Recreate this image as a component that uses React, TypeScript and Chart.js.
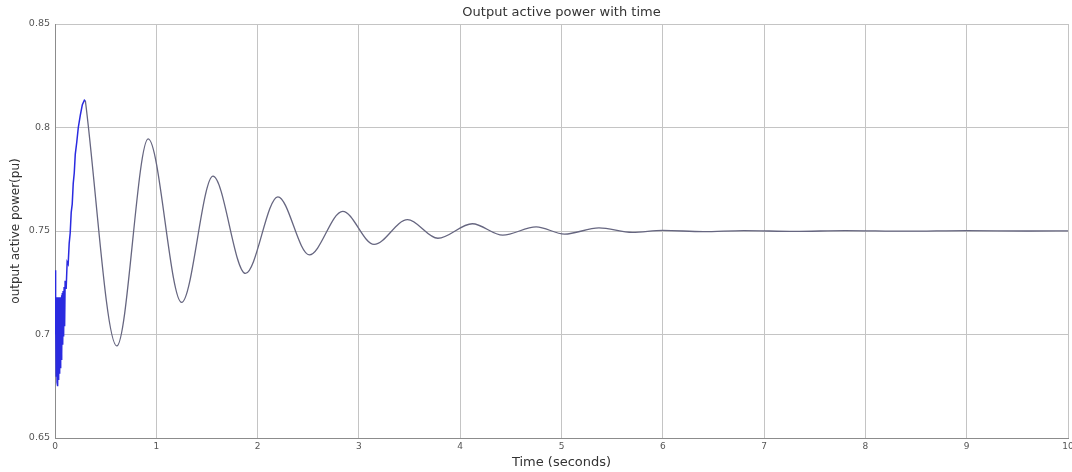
import React, { useEffect, useRef } from "react";
import { Chart, registerables } from "chart.js";

Chart.register(...registerables);

const titleText = "Output active power with time";
const xTitle = "Time (seconds)";
const yTitle = "output active power(pu)";

// Early transient (blue, dense oscillation)
const earlyTime = [
  0.0, 0.004, 0.008, 0.012, 0.016, 0.02, 0.024, 0.028, 0.032, 0.036, 0.04, 0.044, 0.048,
  0.052, 0.056, 0.06, 0.064, 0.068, 0.072, 0.076, 0.08, 0.085, 0.09, 0.095, 0.1, 0.11,
  0.12, 0.13, 0.14, 0.15, 0.16, 0.17, 0.18, 0.19, 0.2, 0.215, 0.23, 0.25, 0.27, 0.29, 0.3,
];
const earlyPower = [
  0.731, 0.7, 0.716, 0.68, 0.718, 0.677, 0.718, 0.675, 0.718, 0.678, 0.718, 0.681, 0.718,
  0.684, 0.718, 0.688, 0.719, 0.691, 0.72, 0.695, 0.721, 0.699, 0.723, 0.704, 0.726, 0.722,
  0.735, 0.734, 0.744, 0.749, 0.759, 0.763, 0.773, 0.778, 0.787, 0.793, 0.8, 0.806, 0.811,
  0.8132, 0.8128,
];

// Damped oscillation (peaks / troughs) after the first peak
const mainTime = [
  0.3, 0.61, 0.92, 1.25, 1.56, 1.88, 2.2, 2.51, 2.84, 3.15, 3.48, 3.78, 4.12, 4.42, 4.75,
  5.03, 5.37, 5.7, 6.0, 6.4, 6.8, 7.3, 7.8, 8.4, 9.0, 9.6, 10.0,
];
const mainPower = [
  0.8128, 0.6945, 0.7945, 0.7155, 0.7765, 0.7295, 0.7665, 0.7385, 0.7595, 0.7435, 0.7555,
  0.7465, 0.7535, 0.748, 0.752, 0.7485, 0.7515, 0.7493, 0.7503, 0.7497, 0.7502, 0.7498,
  0.7502, 0.7499, 0.7502, 0.75, 0.7501,
];

const xTicks = [0, 1, 2, 3, 4, 5, 6, 7, 8, 9, 10];
const yTicks = [0.65, 0.7, 0.75, 0.8, 0.85];

export default function App() {
  const ref = useRef<HTMLCanvasElement | null>(null);

  useEffect(() => {
    document.body.style.margin = "0";
    if (!ref.current) return;
    const font = "'DejaVu Sans', sans-serif";
    const chart = new Chart(ref.current, {
      type: "line",
      data: {
        datasets: [
          {
            data: earlyTime.map((t, i) => ({ x: t, y: earlyPower[i] })),
            borderColor: "#2a2ae0",
            borderWidth: 1.5,
            pointRadius: 0,
            tension: 0,
          },
          {
            data: mainTime.map((t, i) => ({ x: t, y: mainPower[i] })),
            borderColor: "#666680",
            borderWidth: 1.3,
            pointRadius: 0,
            cubicInterpolationMode: "monotone",
          },
        ],
      },
      options: {
        responsive: false,
        animation: false,
        layout: { padding: { top: 0, right: 4, bottom: 0, left: 0 } },
        plugins: {
          legend: { display: false },
          tooltip: { enabled: false },
          title: {
            display: true,
            fullSize: false,
            text: titleText,
            color: "#333",
            font: { family: font, size: 13, weight: "normal" },
            padding: { top: 5, bottom: 3.4 },
          },
        },
        scales: {
          x: {
            type: "linear",
            min: 0,
            max: 10,
            afterFit: (s: any) => {
              s.height = 34;
              s.paddingLeft = 0;
              s.paddingRight = 0;
            },
            afterBuildTicks: (s: any) => {
              s.ticks = xTicks.map((v) => ({ value: v }));
            },
            ticks: {
              color: "#555",
              font: { family: font, size: 9 },
              padding: 3,
              maxRotation: 0,
              callback: (v: any) => String(v),
            },
            grid: { color: "#c4c4c4", lineWidth: 1, drawTicks: false },
            border: { color: "#8c8c8c", width: 1 },
            title: {
              display: true,
              text: xTitle,
              color: "#333",
              font: { family: font, size: 13 },
              padding: { top: 0, bottom: 1.2 },
            },
          },
          y: {
            type: "linear",
            min: 0.65,
            max: 0.85,
            afterFit: (s: any) => {
              s.width = 55;
            },
            afterBuildTicks: (s: any) => {
              s.ticks = yTicks.map((v) => ({ value: v }));
            },
            ticks: {
              color: "#555",
              font: { family: font, size: 9.5 },
              padding: 5,
              callback: (v: any) => String(Number(Number(v).toFixed(2))),
            },
            grid: { color: "#c4c4c4", lineWidth: 1, drawTicks: false },
            border: { color: "#8c8c8c", width: 1 },
            title: {
              display: true,
              text: yTitle,
              color: "#333",
              font: { family: font, size: 12 },
              padding: { top: 8.8, bottom: 0 },
            },
          },
        },
      },
    });
    return () => chart.destroy();
  }, []);

  return (
    <div style={{ width: 1072, height: 472, background: "#fff" }}>
      <canvas ref={ref} width={1072} height={472} />
    </div>
  );
}
